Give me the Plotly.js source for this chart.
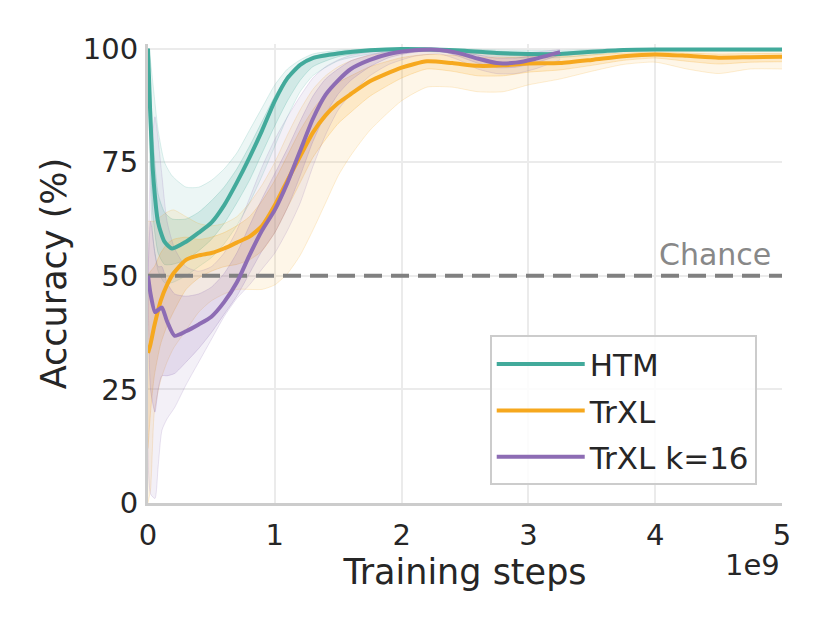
<!DOCTYPE html>
<html>
<head>
<meta charset="utf-8">
<script src="https://cdn.plot.ly/plotly-3.0.1.min.js"></script>
<style>
  html, body { margin: 0; padding: 0; background: #fff; }
  #chart { width: 830px; height: 623px; }
</style>
</head>
<body>
<div id="chart"></div>
<script>
/* ── Data (x in units of 1e9 training steps) ─────────────── */
const htmX     = [0, 0.016, 0.04, 0.08, 0.13, 0.19, 0.3, 0.4, 0.5, 0.6, 0.7, 0.8, 0.9, 1.0, 1.1, 1.2, 1.3, 1.5, 1.75, 2.0, 2.25, 2.5, 2.75, 3.0, 3.25, 3.5, 3.75, 4.0, 4.5, 5.0];
const htmMean  = [100, 87, 72.5, 61.7, 57.5, 56, 57.5, 59.5, 61.7, 65.5, 70.5, 76, 82, 88.5, 93.5, 96.4, 97.9, 98.9, 99.6, 99.9, 99.8, 99.5, 99.0, 98.8, 98.8, 99.3, 99.7, 99.8, 99.8, 99.8];
const htmHi    = [100, 98, 92, 82, 75, 72, 69.5, 69.5, 71, 73.5, 77, 82, 87, 92, 95.5, 97.5, 98.8, 99.6, 99.9, 100, 100, 99.9, 99.7, 99.6, 99.6, 99.8, 99.9, 100, 100, 100];
const htmLo    = [100, 72, 58, 51, 48.5, 48.5, 50, 52, 54, 57, 61, 66, 72, 78.5, 85, 90.5, 94, 97.3, 98.8, 99.4, 99.3, 98.8, 98.2, 97.9, 98, 98.6, 99.3, 99.5, 99.5, 99.5];
const htmHiIn  = [100, 93, 80, 68, 64, 62.5, 62.5, 64, 66.5, 69.5, 73.5, 78.5, 84, 89.5, 94, 96.8, 98.3, 99.3, 99.8, 100, 99.9, 99.7, 99.4, 99.2, 99.2, 99.6, 99.8, 99.9, 99.9, 99.9];
const htmLoIn  = [100, 80, 63, 55, 52.5, 52.5, 53.5, 55.5, 58, 61.5, 66, 71, 77, 83, 88.5, 93, 96, 98.2, 99.3, 99.7, 99.6, 99.2, 98.6, 98.4, 98.4, 99, 99.5, 99.7, 99.7, 99.7];

const trxlX    = [0, 0.02, 0.05, 0.1, 0.15, 0.2, 0.3, 0.4, 0.5, 0.6, 0.7, 0.8, 0.9, 1.0, 1.1, 1.2, 1.3, 1.4, 1.5, 1.6, 1.75, 2.0, 2.2, 2.4, 2.6, 2.8, 3.0, 3.25, 3.5, 3.75, 4.0, 4.25, 4.5, 4.75, 5.0];
const trxlMean = [33, 35, 39, 44.5, 48, 50.5, 53.5, 54.5, 55, 56, 57.3, 58.6, 61, 65.5, 71, 76.3, 81.5, 85.3, 88, 90, 92.8, 95.8, 97.2, 96.8, 96.2, 96.3, 96.7, 96.8, 97.5, 98.3, 98.7, 98.4, 98, 98.1, 98.2];
const trxlHi   = [62, 62, 62, 63, 64, 64.5, 63, 61.5, 61, 61.5, 63, 66, 70, 75, 81, 86.5, 91, 94, 96, 97.3, 98.5, 99.3, 99.5, 99.3, 99, 98.8, 98.8, 98.8, 99.2, 99.5, 99.6, 99.5, 99.5, 99.5, 99.5];
const trxlLo   = [0, 3, 20, 27, 31, 34, 38, 42, 44.5, 46, 47, 47, 47, 48, 50.5, 54.5, 60, 66, 72, 76.5, 82, 88.5, 91.5, 91.5, 90.5, 90.5, 92, 93.3, 95, 96.5, 97, 95.5, 94.5, 95.5, 95.5];
const trxlHiIn = [50, 51, 52, 55, 57, 58, 58.5, 58, 58.5, 59.5, 61, 63, 66.5, 71, 76.5, 82, 86.5, 90, 92.5, 94, 96, 98, 98.7, 98.5, 98.1, 98, 98.2, 98.2, 98.6, 99, 99.2, 99, 98.8, 98.9, 98.9];
const trxlLoIn = [12, 20, 28, 35, 39, 42, 47, 49.5, 51, 52, 52.5, 53.5, 55.5, 59.5, 65, 70.5, 76, 80, 83.5, 86, 89.5, 93.5, 95.5, 95, 94, 94, 94.8, 95.3, 96.3, 97.4, 97.9, 97.2, 96.6, 97, 97.1];

const kX       = [0, 0.02, 0.055, 0.08, 0.11, 0.15, 0.21, 0.3, 0.4, 0.5, 0.6, 0.7, 0.8, 0.9, 1.0, 1.1, 1.2, 1.3, 1.4, 1.5, 1.6, 1.75, 1.9, 2.1, 2.3, 2.45, 2.6, 2.75, 2.9, 3.05, 3.25];
const kMean    = [50, 46, 42, 42.5, 43, 40, 36.8, 37.8, 39.3, 41, 44.2, 48.5, 54.5, 60, 64.5, 70.5, 77.5, 84.5, 89.8, 93, 95.5, 97.5, 98.8, 99.6, 99.7, 99, 97.8, 96.8, 96.9, 97.7, 99.2];
const kHi      = [50, 75, 85, 80, 72, 62, 56, 52, 51, 52, 55, 60, 67, 74, 80, 85, 89.5, 93.5, 96, 97.5, 98.5, 99.2, 99.6, 99.8, 99.9, 99.8, 99.3, 98.8, 98.8, 99.2, 99.8];
const kLo      = [50, 2, 1, 8, 16, 18.5, 21, 26, 31, 36, 41, 45, 48, 51.5, 55, 60, 66, 74, 81, 86.5, 90, 94, 96.5, 98.3, 98.8, 97.5, 95.5, 94.5, 94.5, 95.5, 97.5];
const kHiIn    = [50, 62, 55, 52, 52, 48.5, 46, 45.5, 46, 47.5, 50.5, 55, 61, 67, 72.5, 78, 84, 89.5, 93.3, 95.5, 97.3, 98.6, 99.4, 99.8, 99.8, 99.4, 98.6, 97.9, 97.9, 98.5, 99.5];
const kLoIn    = [50, 25, 20, 25, 28, 28, 28.5, 31, 34, 37.5, 41.5, 45.5, 50.5, 55.5, 59.5, 65, 72, 79.5, 85.5, 90, 93, 96, 98, 99.2, 99.4, 98.3, 96.8, 95.8, 95.9, 96.8, 98.6];

const chanceX  = [0, 5];
const chanceY  = [50, 50];

/* ── Series config ───────────────────────────────────────── */
const SERIES = [
  { name: 'HTM',       rgb: '66,170,155',  x: htmX,  mean: htmMean,  lo: htmLo,  hi: htmHi,  loIn: htmLoIn,  hiIn: htmHiIn },
  { name: 'TrXL',      rgb: '246,168,30',  x: trxlX, mean: trxlMean, lo: trxlLo, hi: trxlHi, loIn: trxlLoIn, hiIn: trxlHiIn },
  { name: 'TrXL k=16', rgb: '141,108,180', x: kX,    mean: kMean,    lo: kLo,    hi: kHi,    loIn: kLoIn,    hiIn: kHiIn }
];

function band(s, lo, hi, alpha) {
  const edge = { color: `rgba(${s.rgb},${alpha + 0.08})`, width: 1, shape: 'spline', smoothing: 0.6 };
  return [
    { x: s.x, y: lo, mode: 'lines', line: edge, showlegend: false, hoverinfo: 'skip' },
    { x: s.x, y: hi, mode: 'lines', line: edge, fill: 'tonexty',
      fillcolor: `rgba(${s.rgb},${alpha})`, showlegend: false, hoverinfo: 'skip' }
  ];
}

const traces = [];
SERIES.forEach(s => {
  traces.push(...band(s, s.lo, s.hi, 0.10));
  traces.push(...band(s, s.loIn, s.hiIn, 0.16));
});

traces.push({
  x: chanceX, y: chanceY, mode: 'lines', showlegend: false, hoverinfo: 'skip',
  line: { color: '#808080', width: 4, dash: '18px,9px' }
});

SERIES.forEach(s => {
  traces.push({
    x: s.x, y: s.mean, name: s.name, mode: 'lines', legendgroup: s.name,
    line: { color: `rgb(${s.rgb})`, width: 4, shape: 'spline', smoothing: 0.6 }
  });
});

const FONT = 'DejaVu Sans, sans-serif';

const layout = {
  width: 830, height: 623,
  margin: { l: 148, r: 48, t: 44, b: 120 },
  paper_bgcolor: '#fff', plot_bgcolor: '#fff',
  font: { family: FONT, color: '#262626', size: 29 },
  showlegend: true,
  legend: {
    x: 0.539, y: 0.365, xanchor: 'left', yanchor: 'top',
    traceorder: 'grouped', tracegroupgap: 3, itemwidth: 88,
    bgcolor: 'rgba(255,255,255,0.85)', bordercolor: '#cccccc', borderwidth: 2,
    font: { family: FONT, size: 31, color: '#262626' }
  },
  xaxis: {
    range: [0, 5], tickvals: [0, 1, 2, 3, 4, 5], ticktext: ['0', '1', '2', '3', '4', '5'],
    showgrid: true, gridcolor: '#ebebeb', gridwidth: 2,
    showline: true, linecolor: '#cccccc', linewidth: 3,
    zeroline: false, ticks: '', ticklabelstandoff: 4,
    tickfont: { size: 29 },
    title: { text: 'Training steps', font: { size: 35 }, standoff: 8 },
    automargin: false
  },
  yaxis: {
    range: [0, 101], tickvals: [0, 25, 50, 75, 100],
    showgrid: true, gridcolor: '#ebebeb', gridwidth: 2,
    showline: true, linecolor: '#cccccc', linewidth: 3,
    zeroline: false, ticks: '', ticklabelstandoff: 1,
    tickfont: { size: 29 },
    title: { text: 'Accuracy (%)', font: { size: 35 }, standoff: 6 },
    automargin: false
  },
  annotations: [
    { x: 4.93, y: 50, xref: 'x', yref: 'y', xanchor: 'right', yanchor: 'bottom', yshift: 2,
      text: 'Chance', showarrow: false, font: { size: 30, color: '#888888' } },
    { x: 1, y: -0.135, xref: 'paper', yref: 'paper', xanchor: 'right', yanchor: 'middle',
      text: '1e9', showarrow: false, font: { size: 29, color: '#262626' } }
  ]
};

Plotly.newPlot('chart', traces, layout, { displayModeBar: false, staticPlot: true });
</script>
</body>
</html>
